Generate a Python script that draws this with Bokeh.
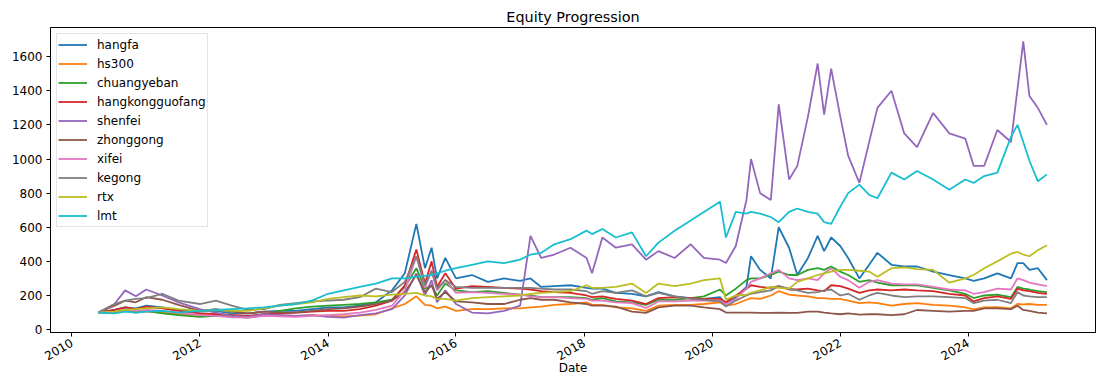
import math
import pandas as pd
from bokeh.plotting import figure
from bokeh.models import Range1d, FixedTicker, DatetimeTickFormatter, ColumnDataSource
from bokeh.embed import file_html
from bokeh.resources import INLINE

dates = ["2010-06-01","2010-09-01","2010-11-01","2011-01-01","2011-03-01","2011-06-01","2011-09-01","2012-01-01","2012-04-01","2012-07-01",
         "2012-10-01","2013-01-01","2013-04-01","2013-07-01","2013-10-01","2014-01-01","2014-04-01","2014-07-01","2014-10-01","2015-01-01",
         "2015-03-15","2015-05-20","2015-07-08","2015-08-15","2015-09-15","2015-11-01","2016-01-01","2016-04-01","2016-07-01","2016-10-01",
         "2017-01-01","2017-03-01","2017-05-01","2017-07-15","2017-10-15","2018-01-15","2018-02-15","2018-04-15","2018-07-01","2018-10-01",
         "2018-12-20","2019-03-01","2019-06-01","2019-09-01","2019-11-15","2020-02-15","2020-03-20","2020-05-15","2020-07-15","2020-08-10",
         "2020-10-01","2020-12-01","2021-01-15","2021-03-15","2021-05-01","2021-07-01","2021-08-25","2021-10-01","2021-11-10","2022-01-01",
         "2022-02-15","2022-04-20","2022-06-15","2022-08-01","2022-10-20","2023-01-01","2023-03-15","2023-06-15","2023-09-15","2023-12-15",
         "2024-02-01","2024-04-01","2024-06-15","2024-09-01","2024-10-08","2024-11-10","2024-12-15","2025-02-01","2025-03-25"]

hangfa = [100,115,130,125,140,130,115,105,110,95,
          95,105,110,110,120,130,130,140,160,230,
          330,620,360,480,300,420,300,320,280,300,
          285,300,250,255,260,245,240,240,215,210,
          195,220,195,185,180,190,150,190,250,430,
          350,300,600,480,320,420,550,460,540,490,
          420,300,380,450,380,370,370,340,320,300,
          285,300,330,300,390,390,350,360,290]
hs300 = [100,100,110,105,105,100,90,85,95,85,
         80,90,85,80,85,80,78,82,90,125,
         150,195,145,140,125,135,110,120,120,125,
         125,130,135,145,150,160,145,145,130,125,
         110,140,145,145,150,160,140,150,175,185,
         180,200,225,205,200,195,185,185,180,180,
         170,155,160,155,140,150,155,145,140,130,
         118,130,132,125,150,148,150,145,145]
chuangyeban = [100,105,115,100,110,95,85,75,80,78,
               70,85,110,125,135,140,145,150,160,175,
               250,360,240,260,200,270,230,220,225,215,
               205,200,190,190,190,185,175,185,165,160,
               145,175,175,185,195,235,200,240,290,300,
               300,320,340,320,320,350,360,350,370,340,
               320,280,290,275,260,260,260,245,230,210,
               185,200,205,190,250,240,235,225,220]
hangkongguofang = [100,115,130,120,135,125,110,95,90,85,
                   80,90,95,100,105,110,110,120,140,170,
                   260,470,270,400,250,330,240,255,250,245,
                   240,235,225,220,215,200,190,195,180,170,
                   150,185,190,185,180,180,160,200,240,260,
                   250,245,255,235,235,240,230,225,260,255,
                   240,215,230,235,230,235,230,225,210,200,
                   165,185,195,180,240,230,225,215,210]
shenfei = [100,150,230,195,235,200,160,120,100,80,
           75,90,85,80,85,75,70,85,95,120,
           200,330,200,290,160,230,150,100,95,110,
           140,550,420,440,480,420,330,540,480,500,
           410,460,420,500,420,410,390,490,760,1000,
           800,760,1320,880,960,1250,1560,1260,1530,1250,
           1020,860,1100,1300,1400,1150,1070,1270,1150,1120,
           960,960,1170,1100,1410,1690,1370,1300,1200]
zhonggong = [100,140,170,160,190,175,145,110,120,105,
             95,105,100,100,110,120,125,135,150,170,
             220,320,220,260,180,220,165,160,150,150,
             175,185,175,175,160,150,140,140,135,105,
             98,130,140,140,130,120,100,100,100,100,
             98,98,100,98,98,105,105,100,95,90,
             95,88,90,90,85,90,115,110,105,110,
             110,125,125,120,140,115,110,100,95]
xifei = [100,105,115,110,115,110,100,85,80,72,
         70,80,78,75,80,85,90,100,115,140,
         230,430,245,350,230,290,215,220,215,210,
         205,195,190,190,185,180,170,170,160,155,
         127,165,165,170,170,170,150,180,240,280,
         300,330,350,300,290,300,290,330,360,310,
         290,245,280,290,270,265,265,250,235,230,
         210,220,240,235,300,290,275,265,255]
kegong = [100,150,170,180,185,210,170,150,170,140,
          115,120,145,155,165,170,175,190,240,220,
          280,430,260,340,240,290,250,245,245,245,
          245,245,240,235,235,225,210,225,215,230,
          195,215,195,180,175,165,135,170,200,210,
          220,230,255,240,230,215,220,230,235,200,
          210,175,200,215,200,190,195,195,190,185,
          155,170,175,155,220,200,195,190,190]
rtx = [100,105,115,120,125,130,120,110,115,110,
       110,125,140,150,160,180,190,200,195,205,
       210,215,200,195,180,180,170,185,190,195,
       200,210,215,220,225,260,245,245,250,270,
       215,270,255,270,290,300,175,200,205,215,
       230,250,245,240,280,300,320,330,340,350,
       350,345,340,310,360,365,355,350,275,300,
       320,360,400,445,455,440,430,465,495]
lmt = [100,95,105,100,105,110,100,110,115,120,
       125,130,140,150,170,210,230,250,270,300,
       300,310,315,320,330,345,360,380,400,390,
       410,440,450,500,530,580,560,590,540,570,
       430,510,580,640,690,750,540,690,680,690,
       680,660,630,690,710,690,680,630,620,720,
       800,850,790,770,920,880,930,880,820,880,
       860,900,920,1130,1200,1100,990,870,910]

series_names = ["hangfa", "hs300", "chuangyeban", "hangkongguofang", "shenfei",
                "zhonggong", "xifei", "kegong", "rtx", "lmt"]
series_values = [hangfa, hs300, chuangyeban, hangkongguofang, shenfei,
                 zhonggong, xifei, kegong, rtx, lmt]
colors = ["#1f77b4", "#ff7f0e", "#2ca02c", "#d62728", "#9467bd",
          "#8c564b", "#e377c2", "#7f7f7f", "#bcbd22", "#17becf"]

x_tick_years = [2010, 2012, 2014, 2016, 2018, 2020, 2022, 2024]
y_ticks = [0, 200, 400, 600, 800, 1000, 1200, 1400, 1600]

data = {"date": pd.to_datetime(dates)}
for n, v in zip(series_names, series_values):
    data[n] = v
src = ColumnDataSource(data)

FONT = "DejaVu Sans"
Y0, Y1 = -17, 1771

p = figure(width=1096, height=379, x_axis_type="datetime",
           output_backend="svg", toolbar_location=None,
           title="Equity Progression",
           x_range=Range1d(pd.Timestamp("2009-09-01"), pd.Timestamp("2025-12-27")),
           y_range=Range1d(Y0, Y1),
           min_border_left=50, min_border_right=1, min_border_top=27, min_border_bottom=47)

for n, c in zip(series_names, colors):
    p.line("date", n, source=src, color=c, line_width=1.8, legend_label=n)

p.title.text_font = FONT
p.title.text_font_size = "14.4px"
p.title.text_font_style = "normal"
p.title.align = "center"
p.title.text_color = "#000000"
p.title.standoff = 6

p.xgrid.visible = False
p.ygrid.visible = False
p.outline_line_color = "#000000"
p.outline_line_width = 1
p.outline_line_alpha = 1

tick_ms = [pd.Timestamp(f"{y}-01-01").value // 10**6 for y in x_tick_years]
p.xaxis.ticker = FixedTicker(ticks=tick_ms)
p.xaxis.formatter = DatetimeTickFormatter(years="%Y", months="%Y", days="%Y", hours="%Y",
                                          minutes="%Y", seconds="%Y", milliseconds="%Y",
                                          microseconds="%Y", minsec="%Y", hourmin="%Y")
p.xaxis.major_label_orientation = math.pi / 6
p.xaxis.axis_label = "Date"
p.yaxis.ticker = FixedTicker(ticks=y_ticks)

for ax in [p.xaxis[0], p.yaxis[0]]:
    ax.major_label_text_font = FONT
    ax.major_label_text_font_size = "12px"
    ax.major_label_text_color = "#000000"
    ax.axis_label_text_font = FONT
    ax.axis_label_text_font_size = "12px"
    ax.axis_label_text_font_style = "normal"
    ax.axis_label_text_color = "#000000"
    ax.axis_line_color = "#000000"
    ax.major_tick_line_color = "#000000"
    ax.major_tick_out = 4
    ax.major_tick_in = 0
    ax.minor_tick_line_color = None
p.xaxis.major_label_standoff = 5
p.xaxis.axis_label_standoff = -7
p.yaxis.major_label_standoff = 4

lg = p.legend[0]
lg.location = "top_left"
lg.margin = 6
lg.padding = 1
lg.spacing = 0
lg.glyph_height = 19
lg.label_height = 19
lg.glyph_width = 29
lg.label_standoff = 10
lg.label_text_font = FONT
lg.label_text_font_size = "12px"
lg.label_text_color = "#000000"
lg.border_line_color = "#cccccc"
lg.border_line_width = 1
lg.background_fill_color = "#ffffff"
lg.background_fill_alpha = 0.8

open("out.html", "w").write(file_html(p, INLINE))
